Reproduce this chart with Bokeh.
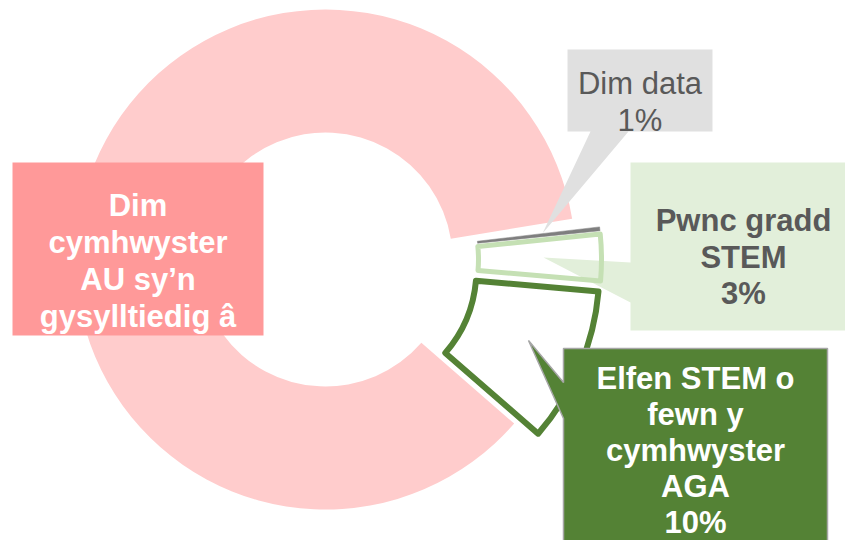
import math
from bokeh.plotting import figure
from bokeh.models import Range1d
from bokeh.embed import file_html
from bokeh.resources import INLINE
from bokeh.core.properties import value

# ---------------- data ----------------
categories = ["Dim cymhwyster AU sy’n gysylltiedig â", "Dim data", "Pwnc gradd STEM",
              "Elfen STEM o fewn y cymhwyster AGA"]
shares = [86, 1, 3, 10]
label_lines = [
    ["Dim", "cymhwyster", "AU sy’n", "gysylltiedig â"],
    ["Dim data", f"{shares[1]}%"],
    ["Pwnc gradd", "STEM", f"{shares[2]}%"],
    ["Elfen STEM o", "fewn y", "cymhwyster", "AGA", f"{shares[3]}%"],
]

# ---------------- styles / layout ----------------
W, H = 845, 540
PAD = 0                    # page offset of the figure
OX, OY = 325, 259          # donut centre on the page (screen px)
R_IN, R_OUT = 127, 250
FIRST_SLICE_DEG = 131      # clockwise from 12 o'clock
explode = [0, 26, 26, 26]
fills = ["#FFCCCC", None, None, None]
lines = [None, None, "#C5E0B4", "#548235"]
line_w = [0, 0, 5, 6]


def sx(x):
    return x - OX


def sy(y):
    return OY - y


p = figure(width=W, height=H, x_range=Range1d(PAD - OX, PAD + W - OX),
           y_range=Range1d(OY - PAD - H, OY - PAD), output_backend="svg",
           toolbar_location=None, x_axis_type=None, y_axis_type=None, min_border=0)
p.grid.visible = False
p.outline_line_color = None
p.background_fill_color = "white"
p.border_fill_color = "white"

total = sum(shares)
start = math.radians(90 - FIRST_SLICE_DEG)
wedges = []
cum = 0
for i, v in enumerate(shares):
    a0 = start - 2 * math.pi * cum / total
    a1 = a0 - 2 * math.pi * v / total
    mid = (a0 + a1) / 2
    cx, cy = explode[i] * math.cos(mid), explode[i] * math.sin(mid)
    wedges.append((cx, cy, a0, a1))
    cum += v

FONT = value("Liberation Sans")

# pink main slice
cx, cy, a0, a1 = wedges[0]
p.annular_wedge(x=cx, y=cy, inner_radius=R_IN, outer_radius=R_OUT, start_angle=a0,
                end_angle=a1, direction="clock", fill_color=fills[0], line_color=None)

# pink label box
pink_box = [(12, 162), (263, 162), (263, 335), (12, 335)]
p.patch([sx(a) for a, b in pink_box], [sy(b) for a, b in pink_box],
        fill_color="#FF9999", line_color=None)

# dim-data callout
dim_call = [(567, 49), (712, 49), (712, 131), (628, 131), (542, 233), (590, 131), (567, 131)]
p.patch([sx(a) for a, b in dim_call], [sy(b) for a, b in dim_call],
        fill_color="#E0E0E0", line_color=None)

# pwnc callout
pw_call = [(630, 162), (850, 162), (850, 330), (630, 330), (630, 302), (543, 257), (630, 262)]
p.patch([sx(a) for a, b in pw_call], [sy(b) for a, b in pw_call],
        fill_color="#E2EFDA", line_color=None)

# dim data slice: thin dark edge on its clockwise side
cx, cy, a0, a1 = wedges[1]
p.annular_wedge(x=cx, y=cy, inner_radius=R_IN, outer_radius=R_OUT,
                start_angle=a1 + math.radians(0.9), end_angle=a1, direction="clock",
                fill_color="#7F7F7F", line_color="#7F7F7F", line_width=0.5)

# pwnc and elfen slices (outlined)
for i in (2, 3):
    cx, cy, a0, a1 = wedges[i]
    p.annular_wedge(x=cx, y=cy, inner_radius=R_IN, outer_radius=R_OUT, start_angle=a0,
                    end_angle=a1, direction="clock", fill_alpha=0,
                    line_color=lines[i], line_width=line_w[i], line_join="round")

# elfen callout
el_call = [(563, 348), (827, 348), (827, 560), (563, 560), (563, 418), (528, 340), (563, 382)]
p.patch([sx(a) for a, b in el_call], [sy(b) for a, b in el_call],
        fill_color="#548235", line_color="#A6A6A6", line_width=1.5)

# label texts
text_pos = [
    (137.5, [205, 242, 279, 316], "white", "bold"),
    (639.5, [83, 120], "#595959", "normal"),
    (743, [220, 257, 293], "#595959", "bold"),
    (695, [378, 414, 450, 486, 522], "white", "bold"),
]
for (tx, ys, col, sty), lns in zip(text_pos, label_lines):
    p.text(x=[sx(tx)] * len(lns), y=[sy(v) for v in ys], text=lns,
           text_font=FONT, text_font_size="31px", text_font_style=sty,
           text_color=col, text_align="center", text_baseline="alphabetic")

open("out.html", "w").write(file_html(p, INLINE))
